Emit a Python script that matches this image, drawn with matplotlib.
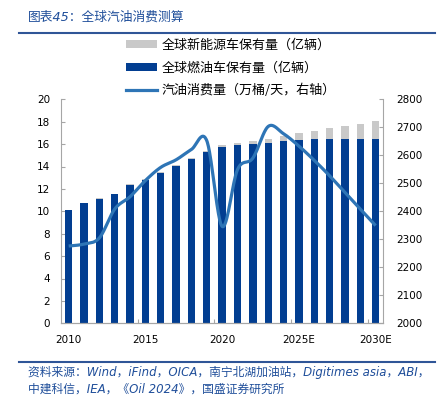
import numpy as np
import matplotlib
matplotlib.use("Agg")
import matplotlib.pyplot as plt
from matplotlib.patches import Patch
from matplotlib.lines import Line2D

years = [str(y) for y in range(2010, 2031)]
tick_labels = ["2010", "2015", "2020", "2025E", "2030E"]
fuel_cars = [10.12, 10.71, 11.13, 11.52, 12.35, 12.80, 13.45, 14.04, 14.67, 15.27, 15.77,
             15.92, 15.98, 16.10, 16.27, 16.37, 16.43, 16.46, 16.46, 16.46, 16.46]
nev_cars = [0.02, 0.03, 0.03, 0.04, 0.05, 0.07, 0.09, 0.10, 0.12, 0.13, 0.15,
            0.16, 0.27, 0.33, 0.41, 0.62, 0.77, 0.95, 1.16, 1.34, 1.58]
gasoline = [2276, 2283, 2305, 2408, 2452, 2510, 2557, 2584, 2621, 2652, 2346,
            2549, 2590, 2703, 2677, 2633, 2582, 2527, 2467, 2408, 2349]

NAVY = "#023E91"
GRAY = "#C9C9C9"
LINE = "#2E75B6"
TXT_BLUE = "#1F4E9A"
SPINE = "#A6A6A6"
CJK = ["Noto Sans CJK SC", "DejaVu Sans"]
MIX = ["DejaVu Sans", "Noto Sans CJK SC"]

W, H = 445, 399
fig = plt.figure(figsize=(W / 100, H / 100), dpi=100)
ax = fig.add_axes([61 / W, 1 - 323.3 / H, (383.3 - 61) / W, (323.3 - 99.3) / H])
ax2 = ax.twinx()

x = np.arange(len(years))
ax.bar(x, fuel_cars, width=0.48, color=NAVY, zorder=2)
ax.bar(x, nev_cars, width=0.48, bottom=fuel_cars, color=GRAY, zorder=2)
ax.set_xlim(-0.5, len(years) - 0.5)
ax.set_ylim(0, 20)
ax.set_yticks(np.arange(0, 21, 2))

# smoothed line (Excel-style Bezier through the data points)
g = np.array(gasoline, dtype=float)
xs, ys = [], []
n = len(g)
t = np.linspace(0, 1, 30)
for i in range(n - 1):
    p0 = np.array([x[i], g[i]])
    p3 = np.array([x[i + 1], g[i + 1]])
    pm = np.array([x[max(i - 1, 0)], g[max(i - 1, 0)]])
    pp = np.array([x[min(i + 2, n - 1)], g[min(i + 2, n - 1)]])
    c1 = p0 + (p3 - pm) / 6
    c2 = p3 - (pp - p0) / 6
    b = ((1 - t) ** 3)[:, None] * p0 + (3 * (1 - t) ** 2 * t)[:, None] * c1 + \
        (3 * (1 - t) * t ** 2)[:, None] * c2 + (t ** 3)[:, None] * p3
    xs.extend(b[:, 0]); ys.extend(b[:, 1])
ax2.plot(xs, ys, color=LINE, lw=2.3, solid_capstyle="butt", zorder=3)
ax2.set_ylim(2000, 2800)
ax2.set_yticks(np.arange(2000, 2801, 100))

for a in (ax, ax2):
    for s in a.spines.values():
        s.set_color(SPINE)
        s.set_linewidth(0.8)
    a.spines["top"].set_visible(False)
ax.spines["right"].set_visible(False)
ax2.spines["left"].set_visible(False)

ax.set_xticks([0, 5, 10, 15, 20])
ax.set_xticklabels(tick_labels)
ax.set_xticks([4.5, 9.5, 14.5, 19.5], minor=True)
ax.tick_params(axis="x", which="major", length=0, pad=8.5, labelsize=7.5)
ax.tick_params(axis="x", which="minor", length=3, direction="in", color=SPINE, width=0.8)
ax.tick_params(axis="y", which="major", length=3, direction="in", color=SPINE, width=0.8,
               pad=8, labelsize=7.5)
ax2.tick_params(axis="y", which="major", length=3, direction="in", color=SPINE, width=0.8,
                pad=9.5, labelsize=7.5)

handles = [Patch(facecolor=GRAY, edgecolor="none"),
           Patch(facecolor=NAVY, edgecolor="none"),
           Line2D([0], [0], color=LINE, lw=2.3)]
labels = ["全球新能源车保有量（亿辆）", "全球燃油车保有量（亿辆）", "汽油消费量（万桶/天，右轴）"]
fig.legend(handles, labels, loc="upper left", bbox_to_anchor=(126 / W, 1 - 39 / H),
           frameon=False, prop={"family": CJK, "size": 9.4}, handlelength=2.4,
           handleheight=0.55, handletextpad=0.3, labelspacing=0.72, borderpad=0,
           borderaxespad=0)

# title and rules
fig.text(28 / W, 1 - 17 / H, "图表45：全球汽油消费测算", color=TXT_BLUE, fontsize=9.2,
         family=MIX, style="italic", va="center", ha="left")
fig.add_artist(Line2D([19 / W, 435 / W], [1 - 33 / H, 1 - 33 / H], color="#2F5597", lw=1.5))
fig.add_artist(Line2D([19 / W, 435 / W], [1 - 362 / H, 1 - 362 / H], color="#2F5597", lw=1.5))

fig.text(28 / W, 1 - 372 / H,
         "资料来源：Wind，iFind，OICA，南宁北湖加油站，Digitimes asia，ABI，",
         color=TXT_BLUE, fontsize=8.5, family=MIX, style="italic", va="center", ha="left")
fig.text(28 / W, 1 - 389.5 / H, "中建科信，IEA，《Oil 2024》，国盛证券研究所",
         color=TXT_BLUE, fontsize=8.5, family=MIX, style="italic", va="center", ha="left")

fig.savefig("out.png", dpi=100)
